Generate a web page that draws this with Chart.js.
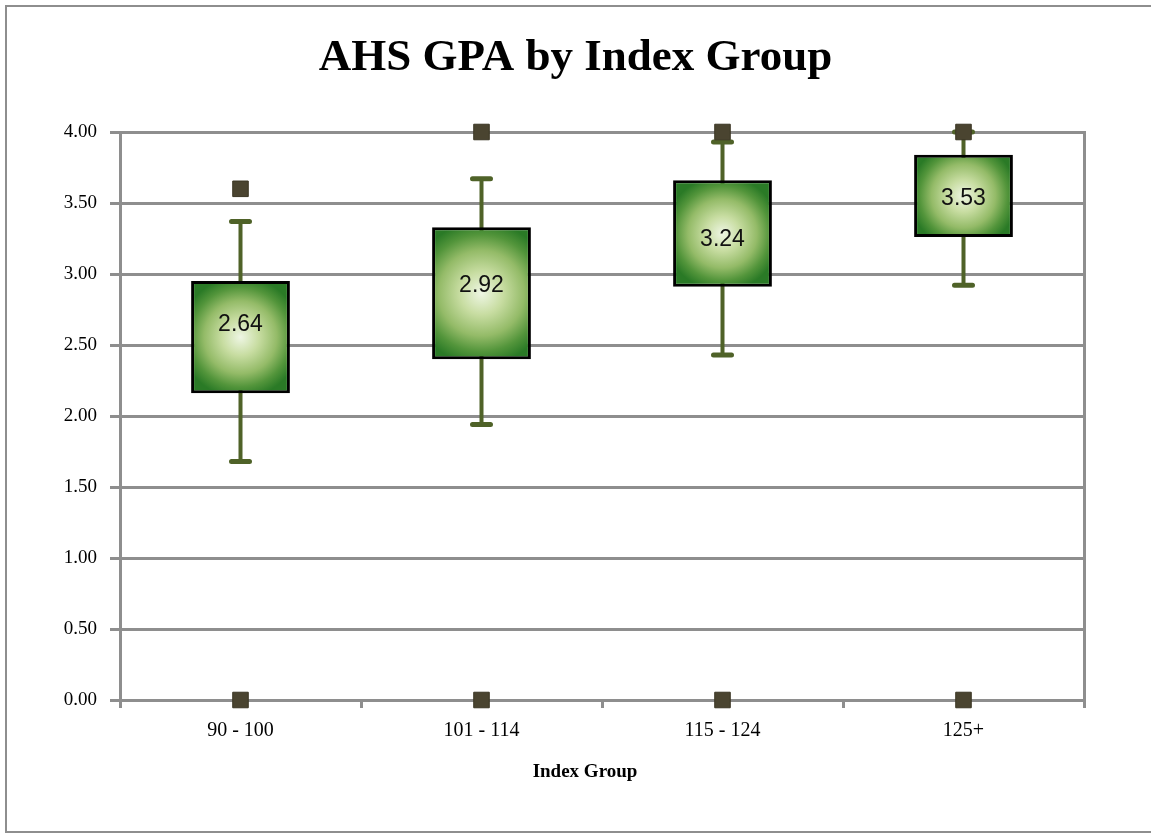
<!DOCTYPE html>
<html>
<head>
<meta charset="utf-8">
<script src="https://cdn.jsdelivr.net/npm/chart.js@4"></script>
<style>
  html, body { margin: 0; padding: 0; background: #fff; }
  canvas { display: block; }
</style>
</head>
<body>
<canvas id="chart" width="1151" height="834"></canvas>
<script>
const categories = ["90 - 100", "101 - 114", "115 - 124", "125+"];
const q1 = [2.16, 2.40, 2.91, 3.26];
const q3 = [2.95, 3.33, 3.66, 3.84];
const whiskerLow = [1.68, 1.94, 2.43, 2.92];
const whiskerHigh = [3.37, 3.67, 3.93, 4.00];
const medians = [2.64, 2.92, 3.24, 3.53];
const maxPoints = [3.60, 4.00, 4.00, 4.00];
const minPoints = [0, 0, 0, 0];

const GRID = "#8e8e8e";
const WHISKER = "#4f6228";
const MARKER = "#4a4430";
const BAR_PCT = 0.41;
const serif = "'Liberation Serif', 'Times New Roman', serif";

function boxGradient(ctx) {
  const chart = ctx.chart;
  const { chartArea, scales } = chart;
  if (!chartArea || ctx.type !== "data") return "#8cb866";
  const i = ctx.dataIndex;
  const cx = scales.x.getPixelForValue(i);
  const yTop = scales.y.getPixelForValue(q3[i]);
  const yBot = scales.y.getPixelForValue(q1[i]);
  const cy = (yTop + yBot) / 2;
  const hw = (scales.x.width / categories.length) * BAR_PCT / 2;
  const r = Math.max(hw, (yBot - yTop) / 2) * 1.08;
  const g = chart.ctx.createRadialGradient(cx, cy, 0, cx, cy, r);
  g.addColorStop(0, "#eef6e4");
  g.addColorStop(0.3, "#c8dda2");
  g.addColorStop(0.6, "#94bb68");
  g.addColorStop(0.82, "#53953b");
  g.addColorStop(1, "#2a7a26");
  return g;
}

// frame, whiskers under the boxes, median labels and axis title on top
const boxExtras = {
  id: "boxExtras",
  beforeDraw(chart) {
    const c = chart.ctx;
    c.save();
    c.fillStyle = "#fff";
    c.fillRect(0, 0, chart.width, chart.height);
    c.strokeStyle = GRID;
    c.lineWidth = 2;
    c.strokeRect(6, 6, 1170, 826);
    c.restore();
  },
  beforeDatasetsDraw(chart) {
    const c = chart.ctx;
    const { x, y } = chart.scales;
    c.save();
    c.strokeStyle = WHISKER;
    categories.forEach((_, i) => {
      const px = x.getPixelForValue(i);
      const top = y.getPixelForValue(whiskerHigh[i]);
      const bot = y.getPixelForValue(whiskerLow[i]);
      c.lineWidth = 4;
      c.lineCap = "butt";
      c.beginPath();
      c.moveTo(px, top);
      c.lineTo(px, bot);
      c.stroke();
      c.lineWidth = 5;
      c.lineCap = "round";
      c.beginPath();
      c.moveTo(px - 9, top);
      c.lineTo(px + 9, top);
      c.moveTo(px - 9, bot);
      c.lineTo(px + 9, bot);
      c.stroke();
    });
    c.restore();
  },
  afterDatasetDraw(chart, args) {
    if (args.index !== 0) return;
    const c = chart.ctx;
    const { x, y } = chart.scales;
    c.save();
    c.fillStyle = "#111";
    c.font = "23px 'Liberation Sans', Arial, sans-serif";
    c.textAlign = "center";
    c.textBaseline = "middle";
    medians.forEach((m, i) => {
      c.fillText(m.toFixed(2), x.getPixelForValue(i), y.getPixelForValue(m));
    });
    c.restore();
  },
  afterDraw(chart) {
    const c = chart.ctx;
    c.save();
    c.fillStyle = "#000";
    c.font = "bold 19px " + serif;
    c.textAlign = "center";
    c.textBaseline = "middle";
    c.fillText("Index Group", 585, 772);
    c.restore();
  },
};

new Chart(document.getElementById("chart"), {
  data: {
    labels: categories,
    datasets: [
      {
        type: "bar",
        data: q1.map((v, i) => [v, q3[i]]),
        backgroundColor: boxGradient,
        borderColor: "#000",
        borderWidth: 3,
        borderSkipped: false,
        barPercentage: BAR_PCT,
        categoryPercentage: 1,
        order: 2,
      },
      {
        type: "line",
        data: maxPoints,
        showLine: false,
        pointStyle: "rect",
        pointRadius: 11,
        backgroundColor: MARKER,
        borderColor: "#3b3624",
        borderWidth: 1,
        clip: false,
        order: 1,
      },
      {
        type: "line",
        data: minPoints,
        showLine: false,
        pointStyle: "rect",
        pointRadius: 11,
        backgroundColor: MARKER,
        borderColor: "#3b3624",
        borderWidth: 1,
        clip: false,
        order: 1,
      },
    ],
  },
  options: {
    responsive: false,
    animation: false,
    events: [],
    layout: { padding: 0 },
    plugins: {
      legend: { display: false },
      tooltip: { enabled: false },
      title: {
        display: true,
        text: "AHS GPA by Index Group",
        color: "#000",
        font: { family: serif, size: 45, weight: "bold", lineHeight: 1.2 },
        padding: { top: 31, bottom: 47 },
      },
    },
    scales: {
      x: {
        offset: true,
        afterFit: (s) => { s.height = 134; },
        grid: {
          offset: true,
          drawOnChartArea: false,
          drawTicks: true,
          tickLength: 8,
          color: GRID,
          lineWidth: 3,
        },
        border: { display: true, color: GRID, width: 3 },
        ticks: {
          color: "#000",
          padding: 11,
          font: { family: serif, size: 20 },
        },
      },
      y: {
        min: 0,
        max: 4,
        afterFit: (s) => { s.width = 120; },
        grid: { color: GRID, lineWidth: 3, tickLength: 10 },
        border: { display: true, color: GRID, width: 3 },
        ticks: {
          stepSize: 0.5,
          color: "#000",
          padding: 13,
          font: { family: serif, size: 19 },
          callback: (v) => Number(v).toFixed(2),
        },
      },
      y2: {
        position: "right",
        min: 0,
        max: 4,
        afterFit: (s) => { s.width = 67; },
        grid: { display: false },
        ticks: { display: false },
        border: { display: true, color: GRID, width: 3 },
      },
    },
  },
  plugins: [boxExtras],
});
</script>
</body>
</html>
